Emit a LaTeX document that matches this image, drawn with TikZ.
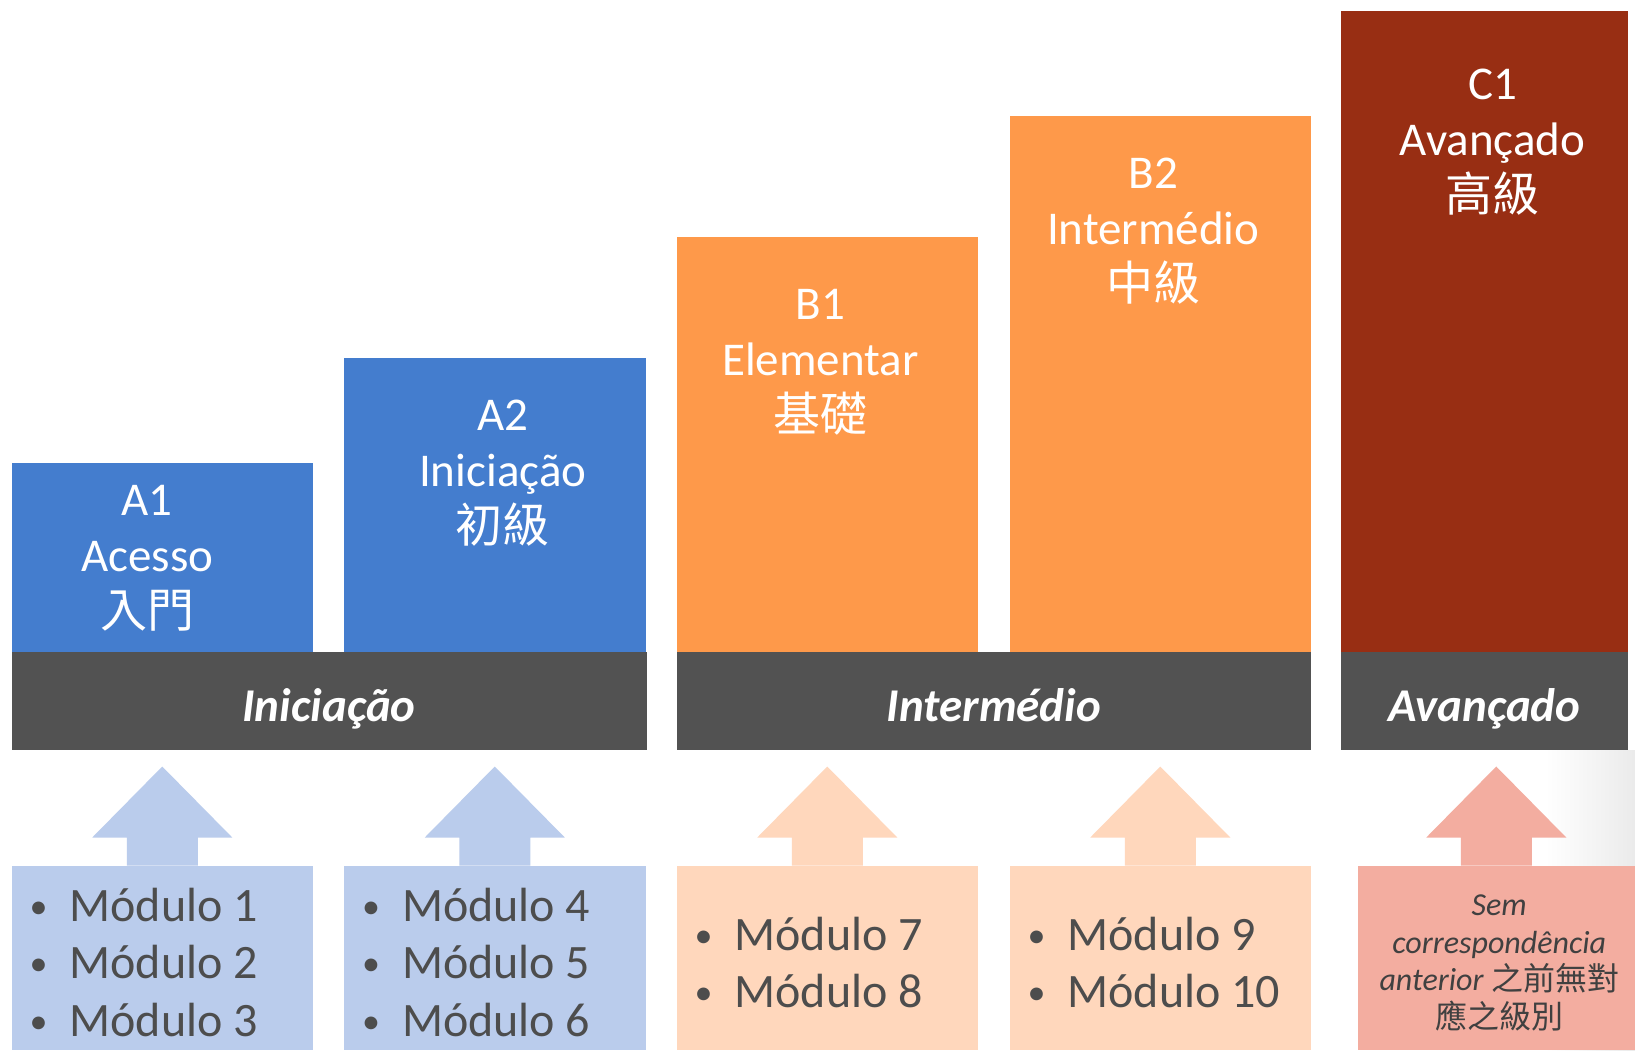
\documentclass[tikz,border=0pt]{standalone}
\usepackage{fontspec}
\setmainfont{Carlito}
\newfontfamily\cjk{Noto Sans CJK TC}
\usetikzlibrary{calc}

\definecolor{lvlblue}{RGB}{68,125,206}
\definecolor{lvlorange}{RGB}{254,153,74}
\definecolor{lvlred}{RGB}{152,46,19}
\definecolor{bargray}{RGB}{82,82,82}
\definecolor{modblue}{RGB}{186,204,236}
\definecolor{modorange}{RGB}{255,215,188}
\definecolor{modred}{RGB}{243,173,160}
\definecolor{modgray}{RGB}{77,77,77}

\newcommand{\md}[1]{\makebox[40pt][l]{\raisebox{3pt}{\fontsize{36}{0}\selectfont\textbullet}}Módulo #1}

\begin{document}
\begin{tikzpicture}[x=1pt, y=-1pt,
	every node/.style = {inner sep=0pt, outer sep=0pt},
	lvlbox/.style = {rectangle, anchor=south west, minimum width=301.5pt},
	barbox/.style = {rectangle, fill=bargray, anchor=north west, minimum height=98pt},
	modbox/.style = {rectangle, anchor=north west, minimum width=301.5pt, minimum height=184.5pt},
	lvltext/.style = {align=center, text=white, font=\fontsize{47}{56}\selectfont},
	bartext/.style = {anchor=base, text=white, font=\fontsize{47}{56}\selectfont\bfseries\itshape},
	modlist/.style = {align=left, anchor=west, text=modgray, font=\fontsize{48}{57.5}\selectfont}]
	\useasboundingbox (0,0) rectangle (1635,1050);
	\fill[white] (0,0) rectangle (1635,1050);
	\shade[left color=white, right color=black!8] (1545,750) rectangle (1635,1050);
	\node[lvlbox, fill=lvlblue, minimum height=189pt] (a1) at (11.5,652) {};
	\node[lvlbox, fill=lvlblue, minimum height=294.5pt] (a2) at (344,652) {};
	\node[lvlbox, fill=lvlorange, minimum height=415.5pt] (b1) at (676.5,652) {};
	\node[lvlbox, fill=lvlorange, minimum height=536.5pt] (b2) at (1009.5,652) {};
	\node[lvlbox, fill=lvlred, minimum width=287pt, minimum height=641.5pt] (c1) at (1341,652) {};
	\node[lvltext] (a1txt) at ($(a1.north)+(-15,95)$) {A1\\Acesso\\{\cjk 入門}};
	\node[lvltext] (a2txt) at ($(a2.north)+(8,115.5)$) {A2\\Iniciação\\{\cjk 初級}};
	\node[lvltext] (b1txt) at ($(b1.north)+(-7,125.5)$) {B1\\Elementar\\{\cjk 基礎}};
	\node[lvltext] (b2txt) at ($(b2.north)+(-7,116)$) {B2\\Intermédio\\{\cjk 中級}};
	\node[lvltext] (c1txt) at ($(c1.north)+(8,131.5)$) {C1\\Avançado\\{\cjk 高級}};
	\node[barbox, minimum width=635pt] (ini) at (a1.south west) {};
	\node[barbox, minimum width=634.5pt] (int) at (b1.south west) {};
	\node[barbox, minimum width=287pt] (ava) at (c1.south west) {};
	\node[bartext] (initxt) at ($(ini.south)+(0,-28.5)$) {Iniciação};
	\node[bartext] (inttxt) at ($(int.south)+(0,-28.5)$) {Intermédio};
	\node[bartext] (avatxt) at ($(ava.south)+(0,-28.5)$) {Avançado};
	\node[modbox, fill=modblue] (m1) at (11.5,865.5) {};
	\node[modbox, fill=modblue] (m2) at (344,865.5) {};
	\node[modbox, fill=modorange] (m3) at (676.5,865.5) {};
	\node[modbox, fill=modorange] (m4) at (1009.5,865.5) {};
	\node[modbox, fill=modred, minimum width=277.5pt] (m5) at (1357.5,865.5) {};
	\foreach \m/\c in {m1/modblue, m2/modblue, m3/modorange, m4/modorange, m5/modred}
		\fill[\c] ([xshift=-35.5pt]\m.north) -- ++(0,-28) -- ++(-34.5,0) -- ([yshift=99pt]\m.north)
			-- ++(70,71) -- ++(-34.5,0) -- ++(0,28) -- cycle;
	\node[modlist] (m1txt) at ($(m1.west)+(18,4.5)$) {\md{1}\\\md{2}\\\md{3}};
	\node[modlist] (m2txt) at ($(m2.west)+(18,4.5)$) {\md{4}\\\md{5}\\\md{6}};
	\node[modlist] (m3txt) at ($(m3.west)+(18,4.5)$) {\md{7}\\\md{8}};
	\node[modlist] (m4txt) at ($(m4.west)+(18,4.5)$) {\md{9}\\\md{10}};
	\node[align=center, text=black!75, font=\fontsize{32}{37.5}\selectfont] (m5txt) at ($(m5.center)+(3,5)$)
		{\textit{Sem}\\\textit{correspondência}\\\textit{anterior} {\cjk 之前無對}\\{\cjk 應之級別}};
\end{tikzpicture}
\end{document}
